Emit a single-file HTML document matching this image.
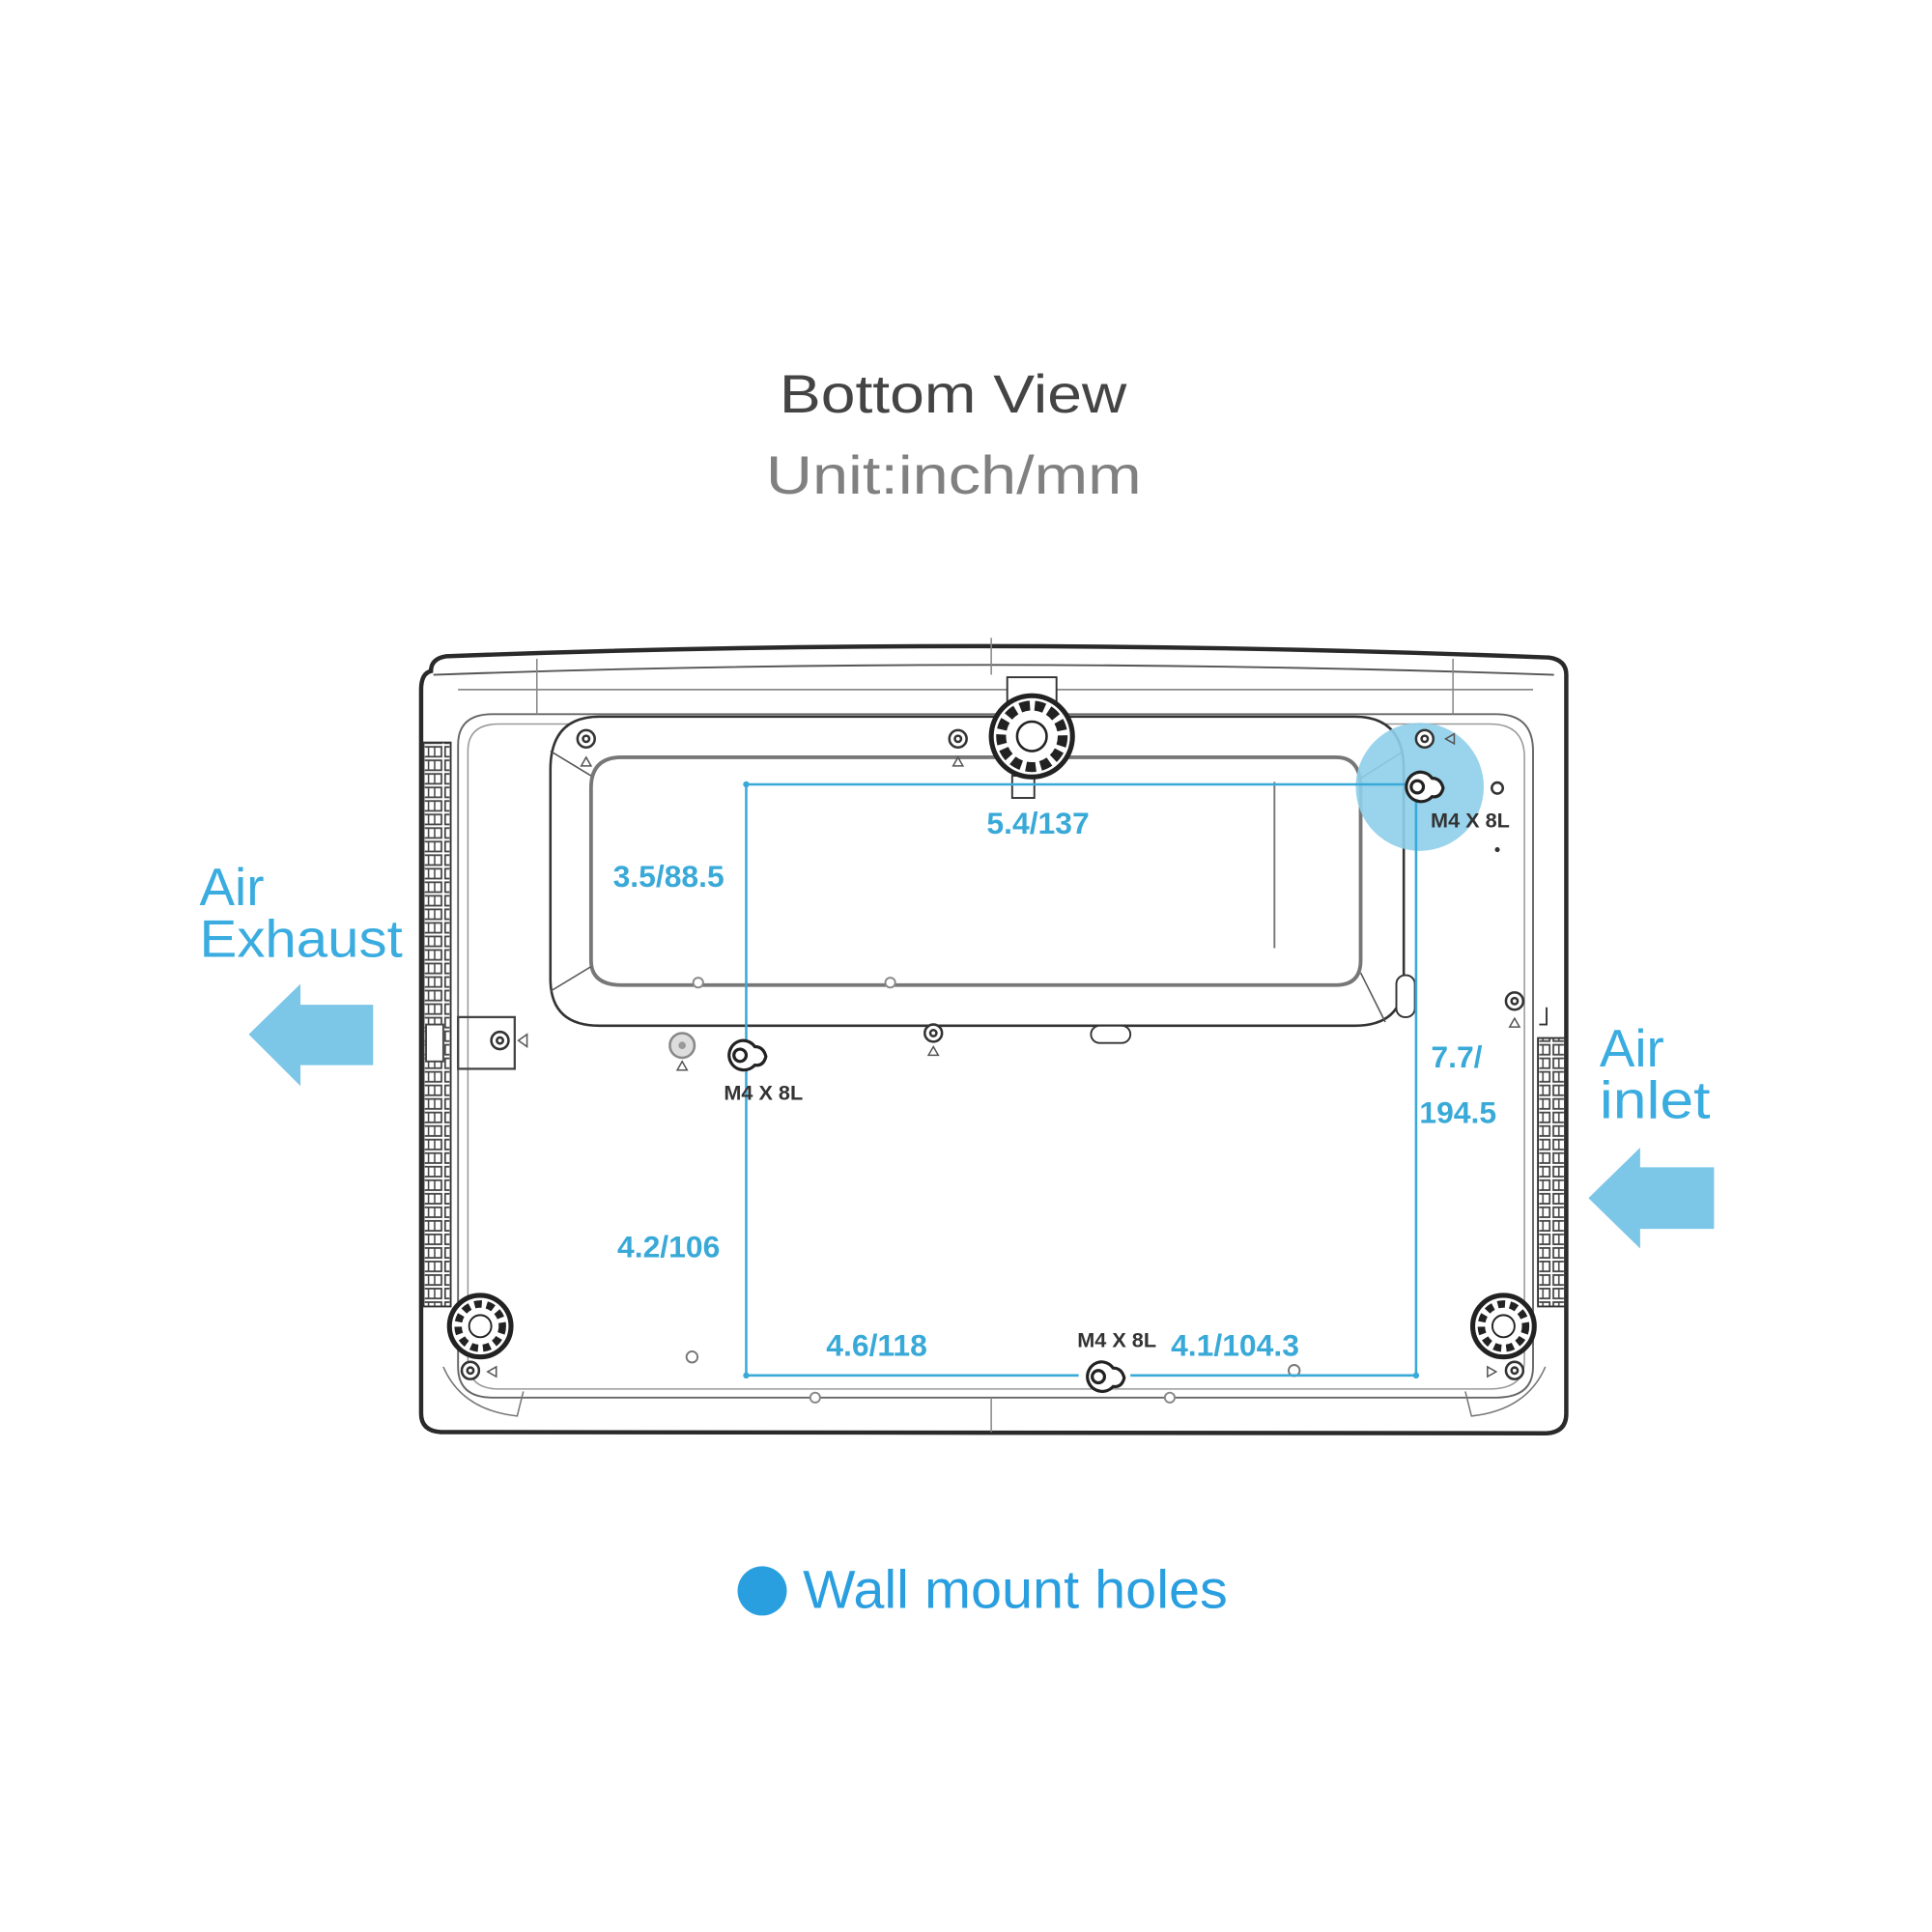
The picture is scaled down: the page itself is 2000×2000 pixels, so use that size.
<!DOCTYPE html>
<html><head><meta charset="utf-8"><style>
html,body{margin:0;padding:0;background:#fff;}
svg{display:block;}
text{font-family:"Liberation Sans","DejaVu Sans",sans-serif;}
</style></head><body>
<svg width="2000" height="2000" viewBox="0 0 1569 1569" xmlns="http://www.w3.org/2000/svg">
<defs>
<pattern id="vent" x="0" y="0" width="18" height="11" patternUnits="userSpaceOnUse">
<rect x="1.5" y="1.5" width="15" height="8" fill="none" stroke="#444" stroke-width="1.4"/>
<line x1="6" y1="1.5" x2="6" y2="9.5" stroke="#444" stroke-width="1.2"/>
<line x1="11" y1="1.5" x2="11" y2="9.5" stroke="#444" stroke-width="1.2"/>
</pattern>
</defs>
<rect width="1569" height="1569" fill="#fff"/>
<text x="633" y="335" font-size="44" fill="#444" textLength="282" lengthAdjust="spacingAndGlyphs">Bottom View</text>
<text x="622" y="401" font-size="44" fill="#808080" textLength="305" lengthAdjust="spacingAndGlyphs">Unit:inch/mm</text>

<!-- body -->
<path d="M350 545 Q350 535 362 533 Q800 516 1258 534 Q1272 536 1272 548 L1272 1148 Q1272 1163 1256 1164 L358 1163 Q342 1162 342 1148 L342 560 Q342 547 350 545 Z" fill="#fff" stroke="#2a2a2a" stroke-width="3.5"/>
<path d="M352 548 Q800 532 1262 548" fill="none" stroke="#555" stroke-width="1.5"/>
<path d="M372 560 L1245 560" stroke="#777" stroke-width="1.2"/>
<path d="M372 605 Q372 580 400 580 L1215 580 Q1245 580 1245 610 L1245 1110 Q1245 1135 1215 1135 L400 1135 Q372 1135 372 1110 Z" fill="none" stroke="#666" stroke-width="1.5"/>
<path d="M380 610 Q380 588 405 588 L1210 588 Q1238 588 1238 615 L1238 1105 Q1238 1128 1210 1128 L405 1128 Q380 1128 380 1105 Z" fill="none" stroke="#999" stroke-width="1.2"/>
<line x1="436" y1="535" x2="436" y2="580" stroke="#888" stroke-width="1.2"/>
<line x1="1180" y1="535" x2="1180" y2="580" stroke="#888" stroke-width="1.2"/>
<line x1="805" y1="518" x2="805" y2="548" stroke="#888" stroke-width="1.2"/>
<line x1="805" y1="1135" x2="805" y2="1163" stroke="#888" stroke-width="1.2"/>
<path d="M360 1110 Q375 1145 420 1150 L425 1130" fill="none" stroke="#777" stroke-width="1.2"/>
<path d="M1255 1110 Q1240 1145 1195 1150 L1190 1130" fill="none" stroke="#777" stroke-width="1.2"/>

<!-- vents -->
<rect x="345" y="603" width="20" height="458" fill="url(#vent)"/>
<rect x="344" y="603" width="22" height="458" fill="none" stroke="#333" stroke-width="1.5"/>
<rect x="1250" y="843" width="20" height="218" fill="url(#vent)"/>
<rect x="1249" y="843" width="22" height="218" fill="none" stroke="#333" stroke-width="1.5"/>

<!-- inner panel -->
<path d="M487 582 L1100 582 Q1140 582 1140 625 L1140 795 Q1140 833 1100 833 L487 833 Q447 833 447 795 L447 625 Q447 582 487 582 Z" fill="#fff" stroke="#333" stroke-width="2"/>
<path d="M505 615 L1085 615 Q1105 615 1105 640 L1105 780 Q1105 800 1085 800 L505 800 Q480 800 480 780 L480 640 Q480 615 505 615 Z" fill="none" stroke="#777" stroke-width="3"/>
<line x1="447" y1="610" x2="480" y2="630" stroke="#555" stroke-width="1.2"/>
<line x1="447" y1="805" x2="480" y2="785" stroke="#555" stroke-width="1.2"/>
<line x1="1140" y1="610" x2="1105" y2="632" stroke="#555" stroke-width="1.2"/>
<line x1="1125" y1="830" x2="1105" y2="790" stroke="#555" stroke-width="1.2"/>
<line x1="1035" y1="635" x2="1035" y2="770" stroke="#777" stroke-width="1.5"/>
<circle cx="567" cy="798" r="4" fill="#fff" stroke="#888" stroke-width="1.5"/>
<circle cx="723" cy="798" r="4" fill="#fff" stroke="#888" stroke-width="1.5"/>
<rect x="886" y="833" width="32" height="14" rx="7" fill="#fff" stroke="#333" stroke-width="1.5"/>
<rect x="1134" y="792" width="15" height="34" rx="7" fill="#fff" stroke="#333" stroke-width="1.5"/>

<!-- highlight -->
<circle cx="1153" cy="639" r="52" fill="#8ecfea" opacity="0.9"/>

<!-- top knob -->
<rect x="818" y="550" width="40" height="30" fill="#fff" stroke="#333" stroke-width="1.5"/>
<rect x="822" y="630" width="18" height="18" fill="#fff" stroke="#333" stroke-width="1.5"/>
<circle cx="838" cy="598" r="33" fill="#fff" stroke="#222" stroke-width="4"/>
<circle cx="838" cy="598" r="25" fill="none" stroke="#222" stroke-width="8" stroke-dasharray="8 4"/>
<circle cx="838" cy="598" r="12" fill="#fff" stroke="#222" stroke-width="2"/>
<!-- bottom feet -->
<g fill="#fff" stroke="#222">
<circle cx="390" cy="1077" r="25" stroke-width="4"/>
<circle cx="390" cy="1077" r="18" stroke-width="6" fill="none" stroke-dasharray="6 4"/>
<circle cx="390" cy="1077" r="9" stroke-width="1.5"/>
<circle cx="1221" cy="1077" r="25" stroke-width="4"/>
<circle cx="1221" cy="1077" r="18" stroke-width="6" fill="none" stroke-dasharray="6 4"/>
<circle cx="1221" cy="1077" r="9" stroke-width="1.5"/>
</g>

<!-- small screws -->
<g fill="#fff" stroke="#333" stroke-width="2">
<circle cx="476" cy="600" r="7"/><circle cx="476" cy="600" r="2.5"/>
<circle cx="778" cy="600" r="7"/><circle cx="778" cy="600" r="2.5"/>
<circle cx="1157" cy="600" r="7"/><circle cx="1157" cy="600" r="2.5"/>
<circle cx="1230" cy="813" r="7"/><circle cx="1230" cy="813" r="2.5"/>
<circle cx="758" cy="839" r="7"/><circle cx="758" cy="839" r="2.5"/>
<circle cx="382" cy="1113" r="7"/><circle cx="382" cy="1113" r="2.5"/>
<circle cx="1230" cy="1113" r="7"/><circle cx="1230" cy="1113" r="2.5"/>
<circle cx="406" cy="845" r="7"/><circle cx="406" cy="845" r="2.5"/>
<circle cx="1216" cy="640" r="4.5"/>
</g>
<circle cx="554" cy="849" r="10" fill="#ddd" stroke="#888" stroke-width="2"/>
<circle cx="554" cy="849" r="3" fill="#999"/>
<circle cx="1216" cy="690" r="2" fill="#333"/>
<g fill="none" stroke="#555" stroke-width="1.2">
<path d="M472 622 L476 615 L480 622 Z"/><path d="M774 622 L778 615 L782 622 Z"/>
<path d="M1226 834 L1230 827 L1234 834 Z"/><path d="M754 857 L758 850 L762 857 Z"/>
<path d="M550 869 L554 862 L558 869 Z"/><path d="M1181 596 L1174 600 L1181 604 Z"/>
<path d="M403 1110 L396 1114 L403 1118 Z"/><path d="M1208 1110 L1215 1114 L1208 1118 Z"/>
<path d="M428 840 L421 845 L428 850 Z"/>
</g>
<rect x="372" y="826" width="46" height="42" fill="none" stroke="#444" stroke-width="1.8"/>
<rect x="346" y="832" width="14" height="30" fill="#fff" stroke="#444" stroke-width="1.5"/>
<path d="M1256 818 L1256 832 L1250 832" fill="none" stroke="#333" stroke-width="1.5"/>
<circle cx="562" cy="1102" r="4.5" fill="#fff" stroke="#777" stroke-width="1.5"/>
<circle cx="1051" cy="1113" r="4.5" fill="#fff" stroke="#777" stroke-width="1.5"/>
<circle cx="662" cy="1135" r="4" fill="#fff" stroke="#888" stroke-width="1.5"/>
<circle cx="950" cy="1135" r="4" fill="#fff" stroke="#888" stroke-width="1.5"/>

<!-- dimension lines -->
<g stroke="#39a9d8" stroke-width="2" fill="none">
<line x1="606" y1="637" x2="1150" y2="637"/>
<line x1="606" y1="637" x2="606" y2="1117"/>
<line x1="1150" y1="637" x2="1150" y2="1117"/>
<line x1="606" y1="1117" x2="876" y2="1117"/>
<line x1="918" y1="1117" x2="1150" y2="1117"/>
</g>
<g fill="#39a9d8">
<circle cx="606" cy="637" r="2.5"/><circle cx="606" cy="1117" r="2.5"/><circle cx="1150" cy="1117" r="2.5"/>
</g>

<!-- keyhole holes -->
<g fill="#fff" stroke="#222" stroke-width="2.5">
<path d="M1153 627 A12 12 0 1 0 1163 647 Q1170 648 1172 640 Q1170 632 1163 632 A12 12 0 0 0 1153 627 Z"/>
<path d="M603 845 A12 12 0 1 0 613 865 Q620 866 622 858 Q620 850 613 850 A12 12 0 0 0 603 845 Z"/>
<path d="M894 1106 A12 12 0 1 0 904 1126 Q911 1127 913 1119 Q911 1111 904 1111 A12 12 0 0 0 894 1106 Z"/>
<circle cx="1151" cy="639" r="5"/><circle cx="601" cy="857" r="5"/><circle cx="892" cy="1118" r="5"/>
</g>

<!-- labels -->
<g font-size="25" fill="#39a9d8" font-weight="bold">
<text x="843" y="677" text-anchor="middle">5.4/137</text>
<text x="543" y="720" text-anchor="middle">3.5/88.5</text>
<text x="543" y="1021" text-anchor="middle">4.2/106</text>
<text x="712" y="1101" text-anchor="middle">4.6/118</text>
<text x="1003" y="1101" text-anchor="middle">4.1/104.3</text>
<text x="1183" y="867" text-anchor="middle">7.7/</text>
<text x="1184" y="912" text-anchor="middle">194.5</text>
</g>
<g font-size="17" fill="#333" font-weight="bold">
<text x="1194" y="672" text-anchor="middle">M4 X 8L</text>
<text x="620" y="893" text-anchor="middle">M4 X 8L</text>
<text x="907" y="1094" text-anchor="middle">M4 X 8L</text>
</g>

<!-- air labels/arrows -->
<g font-size="43" fill="#3aace0">
<text x="162" y="735">Air</text>
<text x="162" y="777" textLength="165" lengthAdjust="spacingAndGlyphs">Exhaust</text>
<text x="1299" y="866">Air</text>
<text x="1299" y="908" textLength="90" lengthAdjust="spacingAndGlyphs">inlet</text>
</g>
<path d="M202 840 L244 799 L244 816 L303 816 L303 865 L244 865 L244 882 Z" fill="#7cc6e8"/>
<path d="M1290 973 L1332 932 L1332 948 L1392 948 L1392 998 L1332 998 L1332 1014 Z" fill="#7cc6e8"/>

<circle cx="619" cy="1292" r="20" fill="#2a9fe0"/>
<text x="652" y="1306" font-size="44" fill="#2a9fe0" textLength="345" lengthAdjust="spacingAndGlyphs">Wall mount holes</text>
</svg>
</body></html>
